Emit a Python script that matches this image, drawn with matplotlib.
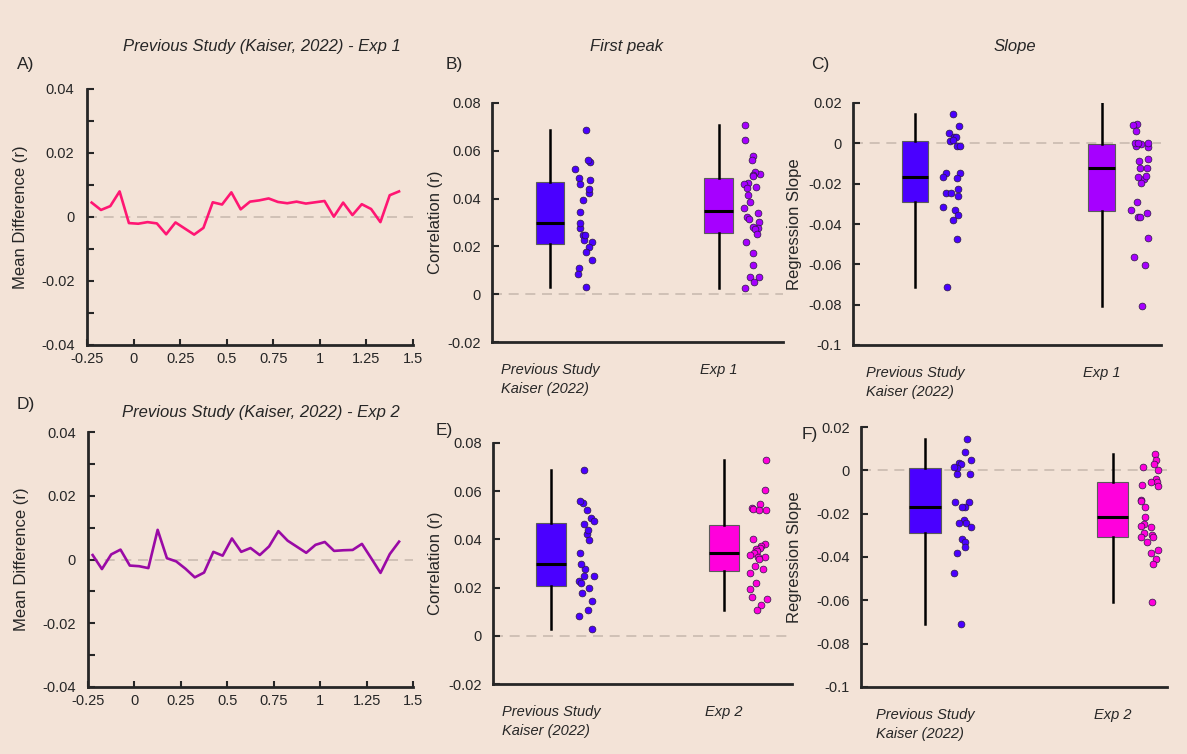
import matplotlib.pyplot as plt
import numpy as np
from matplotlib import font_manager
from matplotlib.ticker import MultipleLocator

# time course of the mean difference (s)
time_s = [-0.225, -0.175, -0.125, -0.075, -0.025, 0.025, 0.075, 0.125, 0.175,
          0.225, 0.275, 0.325, 0.375, 0.425, 0.475, 0.525, 0.575, 0.625,
          0.675, 0.725, 0.775, 0.825, 0.875, 0.925, 0.975, 1.025, 1.075,
          1.125, 1.175, 1.225, 1.275, 1.325, 1.375, 1.425]
diff_exp1 = [0.0045, 0.0022, 0.0034, 0.0080, -0.0019, -0.0021, -0.0016, -0.0020,
             -0.0054, -0.0017, -0.0036, -0.0055, -0.0034, 0.0046, 0.0039, 0.0077,
             0.0024, 0.0048, 0.0052, 0.0058, 0.0047, 0.0043, 0.0048, 0.0042,
             0.0046, 0.0050, 0.0001, 0.0045, 0.0006, 0.0040, 0.0025, -0.0016,
             0.0068, 0.0080]
diff_exp2 = [0.0014, -0.0030, 0.0016, 0.0031, -0.0019, -0.0021, -0.0027, 0.0093,
             0.0004, -0.0006, -0.0029, -0.0056, -0.0041, 0.0024, 0.0012, 0.0066,
             0.0024, 0.0036, 0.0014, 0.0041, 0.0089, 0.0059, 0.0040, 0.0021,
             0.0046, 0.0055, 0.0027, 0.0029, 0.0030, 0.0049, 0.0004, -0.0042,
             0.0017, 0.0056]

# first peak correlations
corr_prev = [0.0686, 0.0552, 0.0561, 0.0488, 0.0462, 0.0477, 0.0524, 0.0424,
             0.0441, 0.0396, 0.0343, 0.0279, 0.0297, 0.0247, 0.0226, 0.0247,
             0.0218, 0.0198, 0.0177, 0.0144, 0.0109, 0.0084, 0.0029]
corr_exp1 = [0.0709, 0.0644, 0.0580, 0.0563, 0.0505, 0.0513, 0.0500, 0.0495,
             0.0465, 0.0462, 0.0446, 0.0449, 0.0417, 0.0385, 0.0360, 0.0339,
             0.0324, 0.0315, 0.0301, 0.0280, 0.0278, 0.0273, 0.0250, 0.0219,
             0.0173, 0.0124, 0.0073, 0.0070, 0.0049, 0.0027]
corr_exp2 = [0.0728, 0.0607, 0.0545, 0.0532, 0.0525, 0.0520, 0.0520, 0.0400,
             0.0379, 0.0371, 0.0366, 0.0360, 0.0352, 0.0345, 0.0335, 0.0328,
             0.0326, 0.0317, 0.0290, 0.0277, 0.0259, 0.0221, 0.0194, 0.0159,
             0.0153, 0.0128, 0.0105]

# regression slopes
slope_prev = [0.0144, 0.0085, 0.0049, 0.0032, 0.0031, 0.0011, 0.0015, -0.0015,
              -0.0015, -0.0145, -0.0148, -0.0167, -0.0171, -0.0228, -0.0244,
              -0.0244, -0.0261, -0.0316, -0.0329, -0.0355, -0.0380, -0.0475,
              -0.0711]
slope_exp1 = [0.0224, 0.0094, 0.0091, 0.0063, -0.0020, -0.0003, -0.0015, 0.0,
              0.0, 0.0, -0.0079, -0.0088, -0.0123, -0.0123, -0.0177, -0.0195,
              -0.0167, -0.0162, -0.0291, -0.0343, -0.0331, -0.0364, -0.0364,
              -0.0469, -0.0563, -0.0601, -0.0806]
slope_exp2 = [0.0074, 0.0049, 0.0029, 0.0014, 0.0, -0.0039, -0.0054, -0.0052,
              -0.0074, -0.0069, -0.0136, -0.0142, -0.0170, -0.0216, -0.0248,
              -0.0262, -0.0259, -0.0298, -0.0290, -0.0309, -0.0309, -0.0332,
              -0.0367, -0.0383, -0.0410, -0.0432, -0.0606]

BG = "#F3E3D7"
INK = "#262626"
C_PREV = "#4A00FF"
C_EXP1 = "#A600FF"
C_EXP2 = "#FF00DC"
C_LINE1 = "#FF1673"
C_LINE2 = "#9A0AA6"

plt.rcParams["font.family"] = ["Liberation Sans", "DejaVu Sans"]
names = {f.name for f in font_manager.fontManager.ttflist}
if "Liberation Sans Narrow" in names:
    cat_font = dict(family=["Liberation Sans Narrow", "Liberation Sans"], size=13)
else:
    cat_font = dict(family=["Liberation Sans"], size=10.5)

W, H = 1187, 754
fig = plt.figure(figsize=(W / 100, H / 100), dpi=100, facecolor=BG)
rng = np.random.default_rng(7)


def px_axes(l, t, r, b):
    ax = fig.add_axes([l / W, 1 - b / H, (r - l) / W, (b - t) / H])
    ax.set_facecolor(BG)
    for s in ("top", "right"):
        ax.spines[s].set_visible(False)
    for s in ("left", "bottom"):
        ax.spines[s].set_linewidth(2)
        ax.spines[s].set_color(INK)
    ax.tick_params(direction="in", colors=INK, labelsize=10.5, width=1.5, length=5)
    return ax


def fmt(v):
    return "0" if abs(v) < 1e-12 else f"{v:g}"


def zero_line(ax):
    ax.axhline(0, color="#C9BBB0", lw=1.2, dashes=(6, 4), zorder=0)


def line_panel(ax, y, color):
    zero_line(ax)
    ax.plot(time_s, y, color=color, lw=1.9)
    ax.set_xlim(-0.25, 1.5)
    ax.set_ylim(-0.04, 0.04)
    xt = [-0.25, 0, 0.25, 0.5, 0.75, 1, 1.25, 1.5]
    ax.set_xticks(xt)
    ax.set_xticklabels([fmt(v) for v in xt])
    yt = [-0.04, -0.02, 0, 0.02, 0.04]
    ax.set_yticks(yt)
    ax.set_yticklabels([fmt(v) for v in yt])
    ax.yaxis.set_minor_locator(MultipleLocator(0.01))
    ax.tick_params(which="minor", direction="in", length=5, width=1.5, colors=INK)
    ax.tick_params(axis="x", length=4, pad=5)
    ax.tick_params(axis="y", pad=9)
    ax.set_ylabel("Mean Difference (r)", fontsize=12, color=INK)
    ax.yaxis.set_label_coords(-0.18, 0.5)


def box_panel(ax, groups, colors, labels, ylim, yticks, xlim, width, ylabel, lab_x):
    zero_line(ax)
    bp = ax.boxplot(groups, positions=[1, 2], widths=width, whis=(0, 100),
                    patch_artist=True, showcaps=False, showfliers=False,
                    medianprops=dict(color="black", lw=2.2),
                    whiskerprops=dict(color="black", lw=1.8),
                    boxprops=dict(edgecolor="#5a5a5a", lw=0.8))
    for patch, c in zip(bp["boxes"], colors):
        patch.set_facecolor(c)
    for i, (vals, c) in enumerate(zip(groups, colors)):
        jit = rng.uniform(-0.05, 0.05, len(vals))
        ax.scatter(i + 1.2 + jit, vals, s=24, color=c, edgecolor="#2a1a40",
                   lw=0.5, zorder=3)
    ax.set_xlim(*xlim)
    ax.set_ylim(*ylim)
    ax.set_yticks(yticks)
    ax.set_yticklabels([fmt(v) for v in yticks])
    ax.tick_params(axis="y", pad=8)
    ax.set_xticks([1, 2])
    ax.set_xticklabels(labels, style="italic", linespacing=1.5,
                       multialignment="left", color=INK, **cat_font)
    ax.tick_params(axis="x", length=0, pad=15)
    ax.set_ylabel(ylabel, fontsize=12, color=INK)
    ax.yaxis.set_label_coords(lab_x, 0.5)


axA = px_axes(87, 89, 413, 345)
line_panel(axA, diff_exp1, C_LINE1)
axD = px_axes(88, 432, 413, 687)
line_panel(axD, diff_exp2, C_LINE2)

prev_lab = "Previous Study\nKaiser (2022)"
corr_ticks = [-0.02, 0, 0.02, 0.04, 0.06, 0.08]
slope_ticks = [-0.1, -0.08, -0.06, -0.04, -0.02, 0, 0.02]

axB = px_axes(492, 103, 783, 342)
box_panel(axB, [corr_prev, corr_exp1], [C_PREV, C_EXP1], [prev_lab, "Exp 1"],
          (-0.02, 0.08), corr_ticks, (0.657, 2.38), 0.17, "Correlation (r)", -0.168)
axE = px_axes(493, 443, 792, 684)
box_panel(axE, [corr_prev, corr_exp2], [C_PREV, C_EXP2], [prev_lab, "Exp 2"],
          (-0.02, 0.08), corr_ticks, (0.664, 2.394), 0.17, "Correlation (r)", -0.168)
axC = px_axes(853, 103, 1161, 345)
box_panel(axC, [slope_prev, slope_exp1], [C_PREV, C_EXP1], [prev_lab, "Exp 1"],
          (-0.1, 0.02), slope_ticks, (0.668, 2.317), 0.143, "Regression Slope", -0.166)
axF = px_axes(861, 427, 1167, 687)
box_panel(axF, [slope_prev, slope_exp2], [C_PREV, C_EXP2], [prev_lab, "Exp 2"],
          (-0.1, 0.02), slope_ticks, (0.658, 2.29), 0.168, "Regression Slope", -0.193)


def fig_text(x, y, s, **kw):
    fig.text(x / W, 1 - y / H, s, color=INK, **kw)


fig_text(262, 46, "Previous Study (Kaiser, 2022) - Exp 1", ha="center", va="center",
         style="italic", fontsize=12)
fig_text(261, 412, "Previous Study (Kaiser, 2022) - Exp 2", ha="center", va="center",
         style="italic", fontsize=12)
fig_text(627, 46, "First peak", ha="center", va="center", style="italic", fontsize=12)
fig_text(1015, 46, "Slope", ha="center", va="center", style="italic", fontsize=12)

for lab, x, y in [("A)", 17, 65), ("B)", 446, 64), ("C)", 811, 64),
                  ("D)", 17, 405), ("E)", 436, 430), ("F)", 802, 434)]:
    fig_text(x, y, lab, ha="left", va="center", fontsize=12.5)

fig.savefig("out.png", dpi=100, facecolor=BG)
